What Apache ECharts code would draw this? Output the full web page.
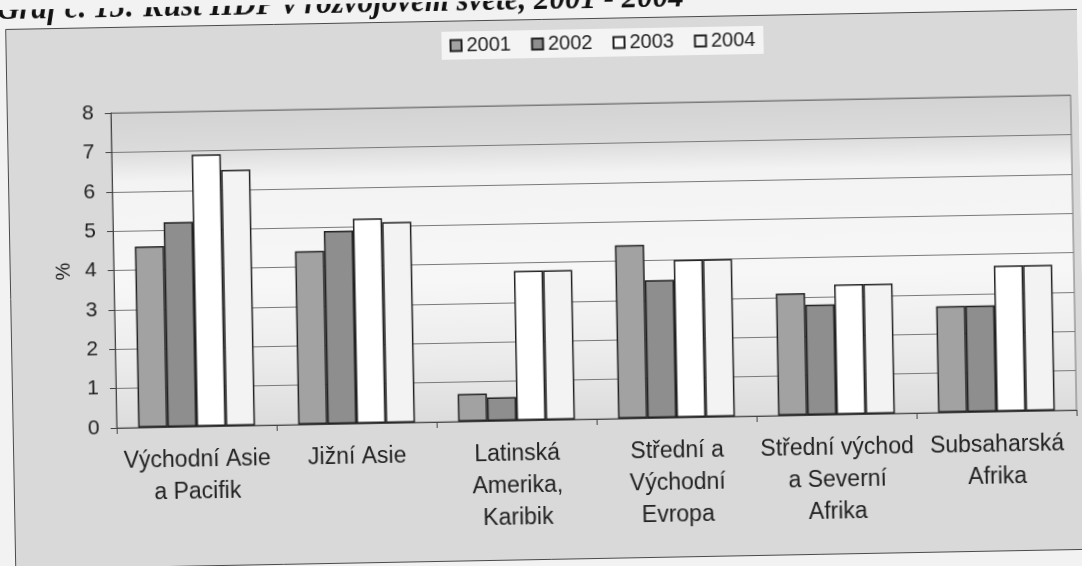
<!DOCTYPE html>
<html>
<head>
<meta charset="utf-8">
<title>Růst HDP v rozvojovém světě</title>
<script src="https://cdn.jsdelivr.net/npm/echarts@6/dist/echarts.min.js"></script>
<style>
  html, body { margin: 0; padding: 0; overflow: hidden; background: #f2f2f2; }
  /* the source is a slightly tilted scan, so the whole chart is turned a little */
  #chart {
    position: absolute; left: 0; top: 0;
    width: 1082px; height: 566px;
    transform: rotate(-1.07deg);
  }
</style>
</head>
<body>
<div id="chart"></div>
<script>
// regions (category labels)
const regions = [
  'Východní Asie\na Pacifik',
  'Jižní Asie',
  'Latinská\nAmerika,\nKaribik',
  'Střední a\nVýchodní\nEvropa',
  'Střední východ\na Severní\nAfrika',
  'Subsaharská\nAfrika'
]
const years = ['2001', '2002', '2003', '2004']

// růst HDP v %
const g2001 = [4.6, 4.4, 0.7, 4.4, 3.1, 2.7]
const g2002 = [5.2, 4.9, 0.6, 3.5, 2.8, 2.7]
const g2003 = [6.9, 5.2, 3.8, 4.0, 3.3, 3.7]
const g2004 = [6.5, 5.1, 3.8, 4.0, 3.3, 3.7]

const yTicks = [0, 1, 2, 3, 4, 5, 6, 7, 8]

const barColors = ['#a2a2a2', '#8e8e8e', '#ffffff', '#f3f3f3']
const seriesData = [g2001, g2002, g2003, g2004]

const chart = echarts.init(document.getElementById('chart'))

chart.setOption({
  animation: false,
  textStyle: { fontFamily: 'Liberation Sans, Arial, sans-serif' },
  // nadpis je ve skenu nahoře oříznutý
  title: {
    text: 'Graf č. 15: Růst HDP v rozvojovém světě, 2001 - 2004',
    left: -3,
    top: -20,
    textStyle: {
      fontFamily: 'Liberation Serif, Times New Roman, serif',
      fontStyle: 'italic',
      fontWeight: 'bold',
      fontSize: 31,
      color: '#111'
    }
  },
  // rámeček grafu
  graphic: [{
    type: 'rect',
    left: 10,
    top: 19,
    z: -10,
    shape: { width: 1100, height: 540 },
    style: { fill: '#d9d9d9', stroke: '#4a4a4a', lineWidth: 1 }
  }],
  legend: {
    data: years,
    left: 446,
    top: 30,
    icon: 'rect',
    itemWidth: 11,
    itemHeight: 11,
    itemGap: 20,
    padding: [4, 8],
    backgroundColor: '#f4f4f4',
    textStyle: { color: '#222', fontSize: 20 }
  },
  grid: {
    left: 114,
    right: 8,
    top: 105,
    bottom: 146,
    show: true,
    borderColor: '#777',
    borderWidth: 1,
    backgroundColor: {
      type: 'linear',
      x: 0, y: 0, x2: 0, y2: 1,
      colorStops: [
        { offset: 0, color: '#d3d3d3' },
        { offset: 0.12, color: '#dbdbdb' },
        { offset: 0.22, color: '#f3f3f3' },
        { offset: 0.55, color: '#f7f7f7' },
        { offset: 0.8, color: '#ebebeb' },
        { offset: 1, color: '#dcdcdc' }
      ]
    }
  },
  xAxis: {
    type: 'category',
    data: regions,
    axisLine: { lineStyle: { color: '#444', width: 1 } },
    axisTick: { show: true, length: 6, lineStyle: { color: '#444' } },
    axisLabel: {
      color: '#222',
      fontSize: 23,
      lineHeight: 32,
      margin: 18,
      interval: 0
    }
  },
  yAxis: {
    type: 'value',
    min: yTicks[0],
    max: yTicks[yTicks.length - 1],
    interval: 1,
    name: '%',
    nameLocation: 'middle',
    nameRotate: 90,
    nameGap: 31,
    nameTextStyle: { color: '#222', fontSize: 20 },
    axisLine: { show: true, lineStyle: { color: '#444' } },
    axisTick: { show: true, length: 6, lineStyle: { color: '#444' } },
    axisLabel: { color: '#222', fontSize: 21, margin: 17 },
    splitLine: { lineStyle: { color: '#7a7a7a', width: 1 } }
  },
  series: years.map((y, i) => ({
    name: y,
    type: 'bar',
    data: seriesData[i],
    barGap: '0%',
    barCategoryGap: '27%',
    itemStyle: {
      color: barColors[i],
      borderColor: '#222',
      borderWidth: 1.5
    }
  }))
})
</script>
</body>
</html>
